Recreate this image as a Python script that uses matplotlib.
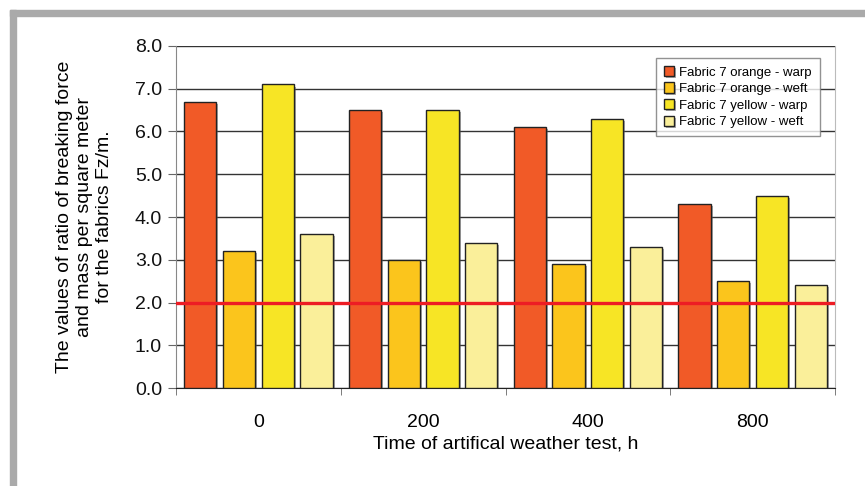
import numpy as np
import matplotlib
matplotlib.use('Agg')
from matplotlib import pyplot as plt
from matplotlib import patheffects as pe
from matplotlib.patches import Rectangle

plt.rcParams['font.family'] = ['Liberation Sans', 'DejaVu Sans']

# Data
times = ['0', '200', '400', '800']
series = ['Fabric 7 orange - warp', 'Fabric 7 orange - weft',
          'Fabric 7 yellow - warp', 'Fabric 7 yellow - weft']
orange_warp = [6.7, 6.5, 6.1, 4.3]
orange_weft = [3.2, 3.0, 2.9, 2.5]
yellow_warp = [7.1, 6.5, 6.3, 4.5]
yellow_weft = [3.6, 3.4, 3.3, 2.4]
limit = 2.0

colors = ['#f15a27', '#fbc51c', '#f7e525', '#faef9a']
values = [orange_warp, orange_weft, yellow_warp, yellow_weft]

fig = plt.figure(figsize=(8.65, 4.86), dpi=100)

# grey frame around the figure (top and left)
fig.patches.append(Rectangle((10/865, 0), 6/865, 1 - 10/486, transform=fig.transFigure,
                             color='#aaaaaa', zorder=0))
fig.patches.append(Rectangle((10/865, 1 - 16/486), 1, 6/486, transform=fig.transFigure,
                             color='#aaaaaa', zorder=0))

ax = fig.add_axes([176/865, 1 - 388/486, 659/865, 342/486])

x = np.arange(len(times))
width = 0.195
step = 0.235
shadow = [pe.SimplePatchShadow(offset=(1.5, -1.5), shadow_rgbFace='#555555', alpha=0.5), pe.Normal()]
for i, (vals, col, name) in enumerate(zip(values, colors, series)):
    bars = ax.bar(x + (i - 1.5) * step, vals, width, color=col, edgecolor='#222222',
                  linewidth=1.0, label=name, zorder=3)
    for b in bars:
        b.set_path_effects(shadow)

ax.axhline(limit, color='#ed1c24', linewidth=2.4, zorder=4)

ax.set_xlim(-0.5, 3.5)
ax.set_ylim(0, 8)
ax.set_yticks(np.arange(0, 8.1, 1))
ax.set_yticklabels(['%.1f' % v for v in np.arange(0, 8.1, 1)], fontsize=14)
ax.yaxis.grid(True, color='#333333', linewidth=1.0, zorder=1)
ax.set_axisbelow(True)

ax.set_xticks(x)
ax.set_xticklabels(times, fontsize=14)
ax.set_xticks(np.arange(-0.5, 3.6, 1), minor=True)
ax.tick_params(axis='x', which='major', length=0, pad=19)
ax.tick_params(axis='x', which='minor', length=5, color='#666666', direction='out')
ax.tick_params(axis='y', length=6, color='#666666', direction='out', pad=4, labelcolor='#111111')

ax.spines['top'].set_visible(False)
ax.spines['left'].set_color('#888888')
ax.spines['right'].set_color('#bbbbbb')
ax.spines['bottom'].set_color('#222222')

ax.set_xlabel('Time of artifical weather test, h', fontsize=14, labelpad=3)
ax.set_ylabel('The values of ratio of breaking force\nand mass per square meter\nfor the fabrics Fz/m.',
              fontsize=14, labelpad=16)

leg = ax.legend(loc='upper right', bbox_to_anchor=(0.977, 0.965), borderaxespad=0, fontsize=9.5,
                frameon=True, fancybox=False, edgecolor='#777777', handlelength=0.8,
                handleheight=0.8, handletextpad=0.4, labelspacing=0.3, borderpad=0.6)
leg.get_frame().set_linewidth(1.0)
leg.set_zorder(5)

fig.savefig('out.png', dpi=100)
